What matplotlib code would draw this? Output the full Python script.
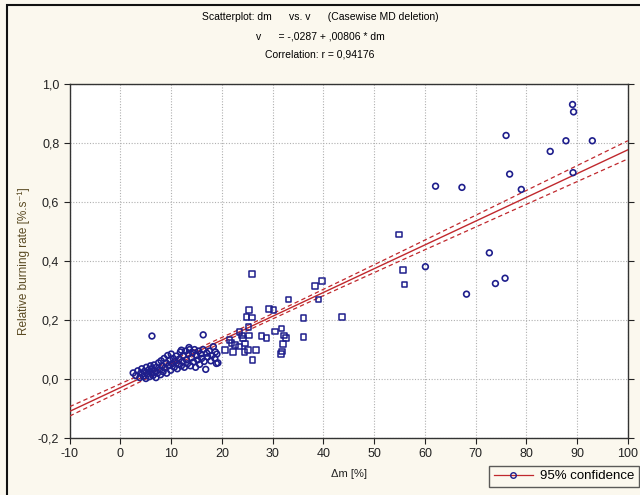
import numpy as np
import matplotlib
matplotlib.use("Agg")
import matplotlib.pyplot as plt
from matplotlib.lines import Line2D
from matplotlib.patches import Rectangle

plt.rcParams['font.family'] = ['Liberation Sans', 'DejaVu Sans']

# Mass loss (%) and relative burning rate (%.s-1) per sample
dm = [
    2.5, 3.0, 3.4, 3.8, 4.0, 4.2, 4.5, 4.7, 5.0, 5.1, 5.3, 5.5, 5.7, 5.9, 6.0,
    6.2, 6.4, 6.6, 6.8, 7.0, 7.1, 7.3, 7.5, 7.7, 7.9, 8.0, 8.2, 8.4, 8.6, 8.8,
    9.0, 9.1, 9.3, 9.5, 9.7, 9.9, 10.0, 10.2, 10.4, 10.6, 10.8, 11.0, 11.2,
    11.4, 11.6, 11.8, 12.0, 12.2, 12.4, 12.6, 12.8, 13.0, 13.2, 13.4, 13.6,
    13.8, 14.0, 14.2, 14.4, 14.6, 14.8, 15.0, 15.2, 15.4, 15.6, 15.8, 16.0,
    16.3, 16.5, 16.8, 17.0, 17.2, 17.5, 17.8, 18.0, 18.3, 18.6, 18.9, 19.0,
    13.5, 12.0, 18.7, 6.2, 16.3,
    19.2, 20.6, 21.5, 21.9, 22.2, 22.6, 23.4, 23.5, 24.0, 24.2, 24.4, 24.5,
    25.1, 25.3, 25.2, 24.8, 25.3, 25.9, 25.9, 26.0, 26.7, 27.8, 28.8, 29.3,
    30.2, 30.5, 31.7, 32.2, 32.6, 32.0, 31.8, 31.6, 33.1, 36.1, 36.1, 38.3,
    39.0, 39.7, 43.7, 54.9, 55.7, 56.0, 60.1, 62.1, 67.3, 68.2, 72.7, 73.9,
    75.8, 76.0, 76.7, 79.0, 84.7, 87.8, 89.1, 89.3, 89.2, 93.0,
]
v = [
    0.021, 0.012, 0.028, 0.005, 0.020, 0.035, 0.010, 0.026, 0.002, 0.040,
    0.018, 0.030, 0.008, 0.045, 0.022, 0.035, 0.012, 0.048, 0.028, 0.005,
    0.040, 0.020, 0.055, 0.032, 0.015, 0.062, 0.045, 0.025, 0.070, 0.038,
    0.055, 0.020, 0.080, 0.045, 0.065, 0.030, 0.085, 0.052, 0.070, 0.040,
    0.060, 0.078, 0.035, 0.050, 0.068, 0.092, 0.045, 0.060, 0.080, 0.040,
    0.095, 0.065, 0.052, 0.085, 0.100, 0.045, 0.072, 0.090, 0.058, 0.100,
    0.040, 0.080, 0.065, 0.095, 0.050, 0.085, 0.070, 0.100, 0.060, 0.033,
    0.088, 0.075, 0.095, 0.062, 0.080, 0.110, 0.070, 0.053, 0.085,
    0.107, 0.098, 0.092, 0.146, 0.150,
    0.055, 0.098, 0.132, 0.123, 0.092, 0.116, 0.110, 0.160, 0.148, 0.137,
    0.092, 0.121, 0.098, 0.148, 0.177, 0.211, 0.234, 0.209, 0.356, 0.064,
    0.098, 0.146, 0.139, 0.238, 0.234, 0.161, 0.171, 0.148, 0.139, 0.119,
    0.094, 0.085, 0.270, 0.207, 0.143, 0.316, 0.270, 0.333, 0.211, 0.490,
    0.369, 0.321, 0.381, 0.654, 0.650, 0.288, 0.428, 0.324, 0.342, 0.826,
    0.695, 0.643, 0.772, 0.808, 0.931, 0.906, 0.700, 0.808,
]

intercept = -0.0287
slope = 0.00806
r_value = "0,94176"

x_ticks = [-10, 0, 10, 20, 30, 40, 50, 60, 70, 80, 90, 100]
y_ticks = [-0.2, 0.0, 0.2, 0.4, 0.6, 0.8, 1.0]

x = np.asarray(dm)
y = np.asarray(v)

bg = '#fbf8ee'
navy = '#1e1e8c'
red = '#c0282d'

fig = plt.figure(figsize=(6.4, 4.95), dpi=100, facecolor=bg)
ax = fig.add_axes([0.109, 0.115, 0.872, 0.715])
ax.set_facecolor('white')

# Regression line and confidence band for the mean
xs = np.linspace(-10, 100, 200)
fit = intercept + slope * xs
n = len(x)
resid = y - (intercept + slope * x)
s = np.sqrt(np.sum(resid ** 2) / (n - 2))
sxx = np.sum((x - x.mean()) ** 2)
half = 1.4 * s * np.sqrt(1.0 / n + (xs - x.mean()) ** 2 / sxx)

ax.plot(xs, fit, color=red, lw=1.0, zorder=3)
ax.plot(xs, fit + half, color=red, lw=0.9, ls=(0, (3.5, 2.5)), zorder=3)
ax.plot(xs, fit - half, color=red, lw=0.9, ls=(0, (3.5, 2.5)), zorder=3)

# Points: squares in the middle range, round markers elsewhere
sq = (x >= 20) & (x < 60)
ax.scatter(x[sq], y[sq], marker='s', s=16, facecolors='none',
           edgecolors=navy, linewidths=1.1, zorder=4)
ax.scatter(x[~sq], y[~sq], marker='o', s=17, facecolors='none',
           edgecolors=navy, linewidths=1.2, zorder=4)

ax.set_xlim(-10, 100)
ax.set_ylim(-0.2, 1.0)
ax.set_xticks(x_ticks)
ax.set_yticks(y_ticks)
ax.set_xticklabels([str(t) for t in x_ticks])
ax.set_yticklabels([f"{t:.1f}".replace('.', ',') for t in y_ticks])
ax.tick_params(axis='both', labelsize=9, length=4, width=0.8, colors='#222222',
               labelcolor='#222222', right=True, direction='out')
ax.grid(True, color='#b0b0b0', ls=(0, (1, 1.5)), lw=0.8)
ax.set_axisbelow(True)
for sp in ax.spines.values():
    sp.set_color('#333333')
    sp.set_linewidth(1.0)

ax.set_xlabel('Δm [%]', fontsize=8, color='#222222', labelpad=6)
ax.set_ylabel('Relative burning rate [%.s⁻¹]', fontsize=8.5, color='#5a4a22',
              labelpad=6)

fig.text(0.5, 0.965, 'Scatterplot: dm      vs. v      (Casewise MD deletion)',
         ha='center', va='center', fontsize=7.5)
fig.text(0.5, 0.927, 'v      = -,0287 + ,00806 * dm',
         ha='center', va='center', fontsize=7.5)
fig.text(0.5, 0.890, f'Correlation: r = {r_value}',
         ha='center', va='center', fontsize=7.5)

handle = Line2D([], [], color=red, lw=0.9, marker='o', markersize=4,
                markerfacecolor='none', markeredgecolor=navy)
leg = fig.legend([handle], ['95% confidence'], loc='lower right',
                 bbox_to_anchor=(0.998, 0.016), fontsize=9.5, frameon=True,
                 fancybox=False, edgecolor='#333333', facecolor=bg,
                 handlelength=3.0, borderpad=0.35, handletextpad=0.5,
                 borderaxespad=0.0)
leg.get_frame().set_linewidth(1.0)

# Outer frame around the graph window
fig.patches.append(Rectangle((7 / 640, -0.1), 1.2, 1.0 - 5 / 495 + 0.1,
                             transform=fig.transFigure, fill=False,
                             edgecolor='#111111', lw=1.5))

fig.savefig('out.png', dpi=100, facecolor=bg)
